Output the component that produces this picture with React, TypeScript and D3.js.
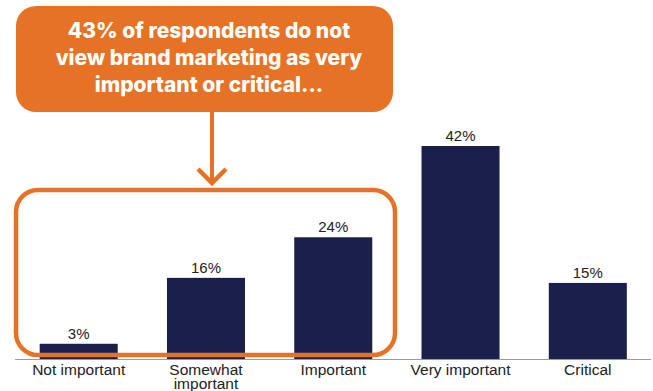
import React from "react";
import * as d3 from "d3";

const categories = ["Not important", "Somewhat important", "Important", "Very important", "Critical"];
const values = [3, 16, 24, 42, 15];
const valueLabels = ["3%", "16%", "24%", "42%", "15%"];
const calloutLines = [
  "43% of respondents do not",
  "view brand marketing as very",
  "important or critical...",
];

const W = 653;
const H = 391;
const ORANGE = "#E67325";
const NAVY = "#1B1F4B";

function wrap(label: string, maxChars: number): string[] {
  const words = label.split(" ");
  const lines: string[] = [];
  let cur = "";
  for (const w of words) {
    const next = cur ? cur + " " + w : w;
    if (next.length > maxChars && cur) {
      lines.push(cur);
      cur = w;
    } else cur = next;
  }
  if (cur) lines.push(cur);
  return lines;
}

export default function App() {
  const x = d3
    .scaleBand<string>()
    .domain(categories)
    .range([15.5, 651])
    .paddingInner(0.387)
    .paddingOuter(0.19);
  const y = d3.scaleLinear().domain([0, 42]).range([359, 146]);
  const bw = x.bandwidth();

  const arrowX = 212;
  const labelFont = "'Liberation Sans', Arial, sans-serif";

  return (
    <svg
      width={W}
      height={H}
      style={{ position: "absolute", left: 0, top: 0, background: "#fff" }}
      viewBox={`0 0 ${W} ${H}`}
    >
      {/* callout box */}
      <rect x={16} y={6} width={377} height={106} rx={20} ry={20} fill={ORANGE} />
      {calloutLines.map((t, i) => (
        <text
          key={i}
          x={209}
          y={38 + i * 27}
          textAnchor="middle"
          fill="#fff"
          fontFamily="Inter, 'Noto Sans', sans-serif"
          fontWeight={800}
          fontSize={21}
        >
          {t}
        </text>
      ))}
      {/* arrow */}
      <line x1={arrowX} x2={arrowX} y1={112} y2={184} stroke={ORANGE} strokeWidth={4} />
      <polyline
        points={`${arrowX - 14},${169} ${arrowX},${183} ${arrowX + 14},${169}`}
        fill="none"
        stroke={ORANGE}
        strokeWidth={4.5}
      />
      {/* axis line */}
      <line x1={15} x2={651} y1={y(0) + 0.5} y2={y(0) + 0.5} stroke="#9a9a9a" strokeWidth={1.2} />
      {/* bars */}
      {categories.map((c, i) => (
        <rect key={c} x={x(c)} y={y(values[i])} width={bw} height={y(0) - y(values[i])} fill={NAVY} />
      ))}
      {/* value labels */}
      {categories.map((c, i) => (
        <text
          key={c}
          x={(x(c) as number) + bw / 2}
          y={y(values[i]) - 5}
          textAnchor="middle"
          fontFamily={labelFont}
          fontSize={15}
          fill="#222"
        >
          {valueLabels[i]}
        </text>
      ))}
      {/* category labels */}
      {categories.map((c) => (
        <text
          key={c}
          x={(x(c) as number) + bw / 2}
          y={375}
          textAnchor="middle"
          fontFamily={labelFont}
          fontSize={15.5}
          fill="#222"
        >
          {wrap(c, 15).map((l, j) => (
            <tspan key={j} x={(x(c) as number) + bw / 2} dy={j === 0 ? 0 : 13.5}>
              {l}
            </tspan>
          ))}
        </text>
      ))}
      {/* highlight outline */}
      <rect
        x={16}
        y={190}
        width={379}
        height={165}
        rx={22}
        ry={22}
        fill="none"
        stroke={ORANGE}
        strokeWidth={4.5}
      />
    </svg>
  );
}
